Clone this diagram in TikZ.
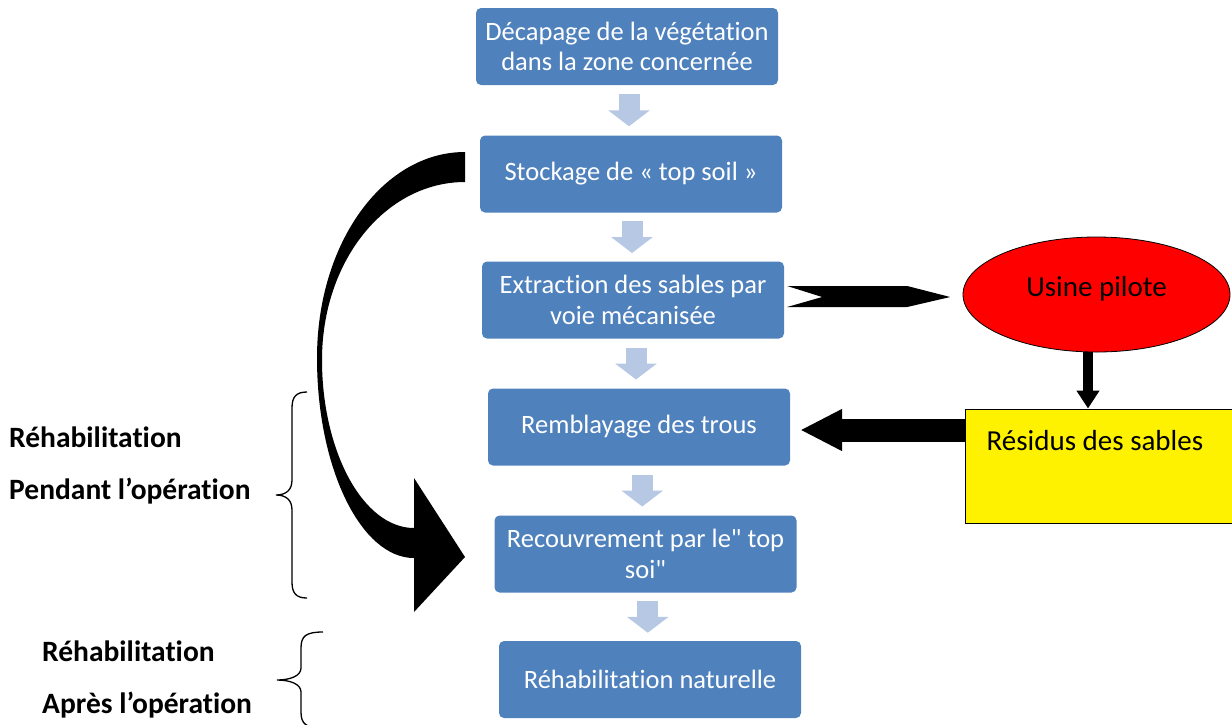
\documentclass[tikz,border=0pt]{standalone}
\usepackage{fontspec}
\setmainfont{Carlito}[Ligatures={TeXOff,NoCommon}]
\usetikzlibrary{shapes.geometric,arrows.meta,calc}
\definecolor{boxblue}{RGB}{79,129,189}
\definecolor{lightarr}{RGB}{183,200,228}
\begin{document}
\begin{tikzpicture}[x=1pt,y=-1pt,
  stepbox/.style={rectangle, rounded corners=5pt, fill=boxblue, text=white,
    minimum width=302pt, minimum height=77pt, align=center, inner sep=0pt,
    font=\fontsize{26.5}{30.5}\selectfont},
  lightarrow/.style={draw=lightarr, line width=21pt, -{Triangle[width=41pt,length=16pt]}},
  sidelabel/.style={anchor=west, inner sep=0pt, font=\fontsize{29.5}{34}\selectfont\bfseries},
  bracestyle/.style={draw=black, line width=1.3pt},
  blackarrow/.style={draw=black, line cap=butt},
]
\useasboundingbox (0,0) rectangle (1232,724);

% main steps
\node[stepbox] (b1) at (627,46.5) {Décapage de la végétation\\dans la zone concernée};
\node[stepbox] (b2) at (631,174) {Stockage de « top soil »};
\node[stepbox] (b3) at (633,300) {Extraction des sables par\\voie mécanisée};
\node[stepbox] (b4) at (639,427) {Remblayage des trous};
\node[stepbox] (b5) at (645.5,554) {Recouvrement par le" top\\soi"};
\node[stepbox] (b6) at (650,679.5) {Réhabilitation naturelle};

% light arrows between steps
\foreach \a/\b [count=\i] in {b1/b2,b2/b3,b3/b4,b4/b5,b5/b6}{
  \coordinate (m\i) at ($(\a.south)!0.5!(\b.north)$);
  \draw[lightarrow] ($(m\i)+(0,-16)$) -- ($(m\i)+(0,16)$);
}

% usine pilote and residues
\node[ellipse, draw=black, line width=0.8pt, fill=red, minimum width=267pt, minimum height=115pt,
  inner sep=0pt, text depth=17pt, font=\fontsize{29}{34}\selectfont] (ell) at (1096.5,294.5) {Usine pilote};
\node[rectangle, draw=black, line width=1.5pt, fill=yellow, minimum width=272pt, minimum height=114pt,
  inner sep=0pt, anchor=north west,
  label={[anchor=west, inner sep=0pt, font=\fontsize{29}{34}\selectfont, xshift=22pt, yshift=-32pt]north west:Résidus des sables}]
  (res) at (964.5,408.5) {};

% notched arrow b3 -> usine
\fill[shift={(b3.east)}] (3,-14) -- (123,-14) -- (166,-3) -- (123,7) -- (3,7) -- (38,-3) -- cycle;

% arrow usine -> residues
\coordinate (ellx) at ($(ell.south)+(-8.5,0)$);
\draw[blackarrow, line width=10pt, -{Triangle[width=22pt,length=18pt]}] (ellx) -- (ellx |- res.north);

% arrow residues -> remblayage
\coordinate (ylev) at (0,430);
\draw[blackarrow, line width=23pt, -{Triangle[width=39pt,length=42pt]}, shorten >=10pt]
  (res.west |- ylev) -- (b4.east |- ylev);

% big curved arrow stockage -> recouvrement
\fill (465,152) .. controls (383,152) and (317,243) .. (317,358)
  .. controls (317,468) and (361,558) .. (414,558)
  -- (414,612) -- (465,557) -- (414,478) -- (414,528)
  .. controls (363,528) and (322,451) .. (322,360)
  .. controls (322,260) and (386,182) .. (465,182) -- cycle;

% braces
\draw[bracestyle] (307,392) .. controls (296,392) and (292,397) .. (292,408) -- (292,480)
  .. controls (292,490) and (286,495) .. (276,495)
  .. controls (286,495) and (292,500) .. (292,510) -- (292,582)
  .. controls (292,593) and (296,598) .. (307,598);
\draw[bracestyle] (323,632) .. controls (306,632) and (301,636) .. (301,648) -- (301,668)
  .. controls (301,676) and (290,680) .. (277,680)
  .. controls (290,680) and (301,684) .. (301,692) -- (301,712)
  .. controls (301,724) and (306,728) .. (323,728);

% side labels
\node[sidelabel] (l1) at (9,437) {Réhabilitation};
\node[sidelabel] (l2) at (9,491) {Pendant l’opération};
\node[sidelabel] (l3) at (42,651) {Réhabilitation};
\node[sidelabel] (l4) at (42,705) {Après l’opération};
\end{tikzpicture}
\end{document}
